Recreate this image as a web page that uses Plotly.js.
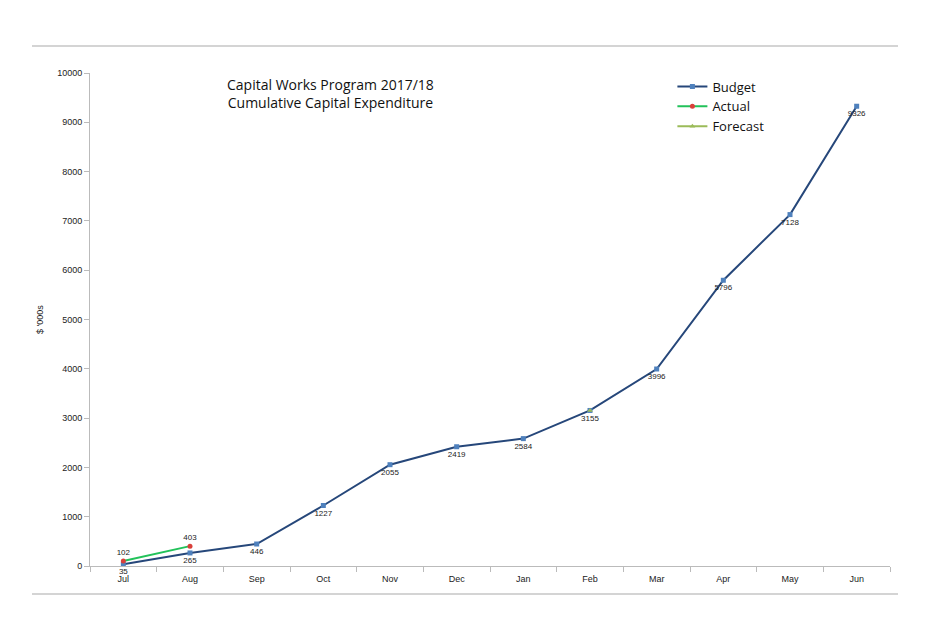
<!DOCTYPE html>
<html><head><meta charset="utf-8">
<script src="https://cdn.plot.ly/plotly-3.0.1.min.js"></script>
<style>html,body{margin:0;padding:0;background:#fff}</style>
</head><body>
<div id="chart" style="width:930px;height:641px"></div>
<script>
const months = ['Jul','Aug','Sep','Oct','Nov','Dec','Jan','Feb','Mar','Apr','May','Jun'];
const budget = [35,265,446,1227,2055,2419,2584,3155,3996,5796,7128,9326];
const actualMonths = ['Jul','Aug'];
const actual = [102,403];
const forecastMonths = ['Feb'];
const forecast = [3155];
const yTicks = [0,1000,2000,3000,4000,5000,6000,7000,8000,9000,10000];

const traces = [
  {x: months, y: budget, name: 'Budget', type: 'scatter', mode: 'lines+markers+text', legendrank: 1, cliponaxis: false,
   line: {color: '#26477A', width: 2}, marker: {symbol: 'square', size: 5, color: '#4F81BD'},
   text: budget.map(String), textposition: 'bottom center', textfont: {family: 'Liberation Sans', size: 8, color: '#222'}},
  {x: forecastMonths, y: forecast, name: 'Forecast', type: 'scatter', mode: 'lines+markers', legendrank: 3,
   line: {color: '#9BBB59', width: 2}, marker: {symbol: 'triangle-up', size: 5, color: '#9BBB59'}},
  {x: actualMonths, y: actual, name: 'Actual', type: 'scatter', mode: 'lines+markers+text', legendrank: 2, cliponaxis: false,
   line: {color: '#22C25A', width: 2}, marker: {symbol: 'circle', size: 5, color: '#D9403A'},
   text: actual.map(String), textposition: 'top center', textfont: {family: 'Liberation Sans', size: 8, color: '#222'}}
];

const layout = {
  width: 930, height: 641,
  margin: {l: 90, r: 40, t: 73, b: 75},
  paper_bgcolor: '#fff', plot_bgcolor: '#fff',
  font: {family: 'Liberation Sans', size: 8, color: '#222'},
  showlegend: true,
  legend: {x: 0.728, y: 1.003, xanchor: 'left', yanchor: 'top', bgcolor: 'rgba(0,0,0,0)',
    font: {family: 'Open Sans', size: 13, color: '#111'}, itemwidth: 30, tracegroupgap: 0,
    traceorder: 'normal'},
  xaxis: {type: 'category', categoryorder: 'array', categoryarray: months, range: [-0.5, 11.5],
    showgrid: false, showline: true, linecolor: '#BBBBBB', linewidth: 1,
    ticks: 'outside', tickson: 'boundaries', ticklen: 5, tickcolor: '#BBBBBB', ticklabelstandoff: 4,
    tickfont: {family: 'Liberation Sans', size: 9, color: '#222'}, zeroline: false, fixedrange: true},
  yaxis: {range: [0, 10000], tickvals: yTicks, ticktext: yTicks.map(String),
    showgrid: false, showline: true, linecolor: '#BBBBBB', linewidth: 1,
    ticks: 'outside', ticklen: 5, tickcolor: '#BBBBBB', zeroline: false,
    tickfont: {family: 'Liberation Sans', size: 9, color: '#222'},
    title: {text: "$ '000s", font: {family: 'Liberation Sans', size: 9, color: '#222'}, standoff: 12}},
  annotations: [
    {xref: 'paper', yref: 'paper', x: 0.3, y: 1.0, xanchor: 'center', yanchor: 'top', showarrow: false,
     text: 'Capital Works Program 2017/18<br>Cumulative Capital Expenditure',
     font: {family: 'Open Sans', size: 14, color: '#111'}, align: 'center'}
  ],
  shapes: [
    {type: 'line', xref: 'paper', yref: 'paper', x0: -0.0725, x1: 1.01, y0: 1.0548, y1: 1.0548,
     line: {color: '#D4D4D4', width: 2}},
    {type: 'line', xref: 'paper', yref: 'paper', x0: -0.0725, x1: 1.01, y0: -0.0568, y1: -0.0568,
     line: {color: '#D4D4D4', width: 2}}
  ]
};

Plotly.newPlot('chart', traces, layout, {displayModeBar: false, staticPlot: true});
</script>
</body></html>
